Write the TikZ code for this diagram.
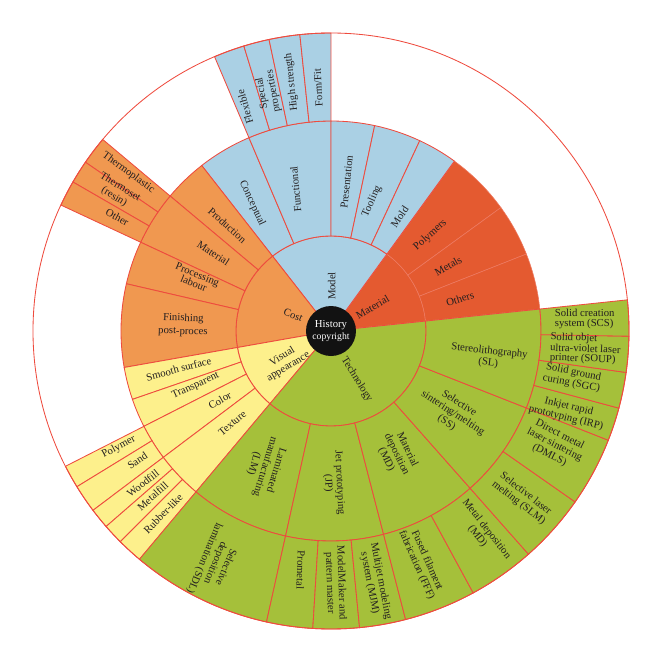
\documentclass[tikz,border=0pt]{standalone}
\usepackage{fontspec}
\setmainfont{Liberation Serif}
\definecolor{modelblue}{HTML}{AAD0E4}
\definecolor{matred}{HTML}{E45A30}
\definecolor{costorange}{HTML}{F09850}
\definecolor{visyellow}{HTML}{FDF08C}
\definecolor{techgreen}{HTML}{A5C03A}
\definecolor{segline}{HTML}{EE4B3E}
\definecolor{matline}{HTML}{EE7A62}
\definecolor{labeltext}{HTML}{231F20}

\begin{document}
\begin{tikzpicture}[x=0.025cm, y=0.025cm, line width=0.6pt,
  lbl/.style={text=labeltext, font=\fontsize{7.6}{8.2}\selectfont, align=center, inner sep=0pt},
  tightlbl/.style={lbl, font=\fontsize{7.6}{6.8}\selectfont}]
\useasboundingbox (-331,-329) rectangle (328,331);
\foreach \ri/\ro/\a/\b in {20/95/6/54, 95/210/36/54, 95/210/21.5/36, 95/210/6/21.5}
  \filldraw[fill=matred, draw=matline, line width=0.4pt] (\a:\ri) arc[start angle=\a, end angle=\b, radius=\ri]
    -- (\b:\ro) arc[start angle=\b, end angle=\a, radius=\ro] -- cycle;
\foreach \ri/\ro/\a/\b/\c in {
  20/95/54/128/modelblue, 20/95/128/190/costorange, 20/95/190/230/visyellow, 20/95/230/366/techgreen,
  95/210/113/128/modelblue, 95/210/90/113/modelblue, 95/210/78/90/modelblue, 95/210/65/78/modelblue, 95/210/54/65/modelblue,
  95/210/128/140/costorange, 95/210/140/155/costorange, 95/210/155/167/costorange, 95/210/167/190/costorange,
  95/210/190/199/visyellow, 95/210/199/207/visyellow, 95/210/207/217/visyellow, 95/210/217/230/visyellow,
  95/210/230/257.5/techgreen, 95/210/257.5/284.5/techgreen, 95/210/284.5/311.5/techgreen, 95/210/311.5/338.5/techgreen, 95/210/338.5/366/techgreen,
  210/298/107/113/modelblue, 210/298/102/107/modelblue, 210/298/96/102/modelblue, 210/298/90/96/modelblue,
  210/298/140/145.5/costorange, 210/298/145.5/150/costorange, 210/298/150/155/costorange,
  210/298/207/211.5/visyellow, 210/298/211.5/217/visyellow, 210/298/217/221/visyellow, 210/298/221/225/visyellow, 210/298/225/230/visyellow,
  210/298/230/257.5/techgreen, 210/298/257.5/266.5/techgreen, 210/298/266.5/275.5/techgreen, 210/298/275.5/284.5/techgreen,
  210/298/284.5/298.5/techgreen, 210/298/298.5/311.5/techgreen, 210/298/311.5/325/techgreen, 210/298/325/338.5/techgreen,
  210/298/338.5/345/techgreen, 210/298/345/352/techgreen, 210/298/352/359/techgreen, 210/298/359/366/techgreen}
  \filldraw[fill=\c, draw=segline] (\a:\ri) arc[start angle=\a, end angle=\b, radius=\ri]
    -- (\b:\ro) arc[start angle=\b, end angle=\a, radius=\ro] -- cycle;
\draw[segline] (0,0) circle (298);
\fill[black!93] (0,0) circle (25);
\node[lbl, text=white] (hist) at (0,0) {{\fontsize{7.6}{8}\selectfont History}\\{\fontsize{6.9}{7.6}\selectfont copyright}};

\node[lbl, rotate=90] (model) at (89:45) {Model};
\node[lbl, rotate=30] (material) at (30:48) {Material};
\node[lbl, rotate=-22] (cost) at (157:41) {Cost};
\node[lbl, rotate=31] (visual) at (214:55) {Visual\\appearance};
\node[lbl, rotate=-58] (technology) at (298:55) {Technology};

\node[lbl, rotate=-65] (conceptual) at (121.7:150) {Conceptual};
\node[lbl, rotate=95] (functional) at (104:146) {Functional};
\node[lbl, rotate=84] (presentation) at (84:150) {Presentation};
\node[lbl, rotate=66] (tooling) at (72.5:136) {Tooling};
\node[lbl, rotate=56] (mold) at (59:133) {Mold};
\node[lbl, rotate=42] (polymers) at (44:138) {Polymers};
\node[lbl, rotate=30] (metals) at (29:134) {Metals};
\node[lbl, rotate=18] (others) at (14:133) {Others};
\node[lbl, rotate=-42] (production) at (134.5:148) {Production};
\node[lbl, rotate=-33] (costmaterial) at (146.5:141) {Material};
\node[lbl, rotate=-22, font=\fontsize{7.6}{7.2}\selectfont] (processing) at (159:145) {Processing\\labour};
\node[lbl, rotate=-2, font=\fontsize{7.6}{9.4}\selectfont] (finishing) at (177.7:148) {Finishing\\post-proces};
\node[lbl, rotate=15] (smooth) at (194:157) {Smooth surface};
\node[lbl, rotate=25] (transparent) at (202:146) {Transparent};
\node[lbl, rotate=30] (color) at (212:131) {Color};
\node[lbl, rotate=40] (texture) at (223:135) {Texture};
\node[lbl, rotate=-107] (lm) at (244:151) {Laminated\\manufacturing\\(LM)};
\node[lbl, rotate=-87] (jp) at (271:152) {Jet prototyping\\(JP)};
\node[lbl, rotate=-64] (md) at (298:140) {Material\\deposition\\(MD)};
\node[lbl, rotate=-33] (ss) at (326:147) {Selective\\sintering/melting\\(SS)};
\node[lbl, rotate=-6] (sl) at (350.6:160) {Stereolithography\\(SL)};

\node[lbl, rotate=106] (flexible) at (111:240) {Flexible};
\node[lbl, rotate=100] (special) at (104.8:247) {Special\\properties};
\node[lbl, rotate=96] (highstrength) at (99:252) {High strength};
\node[lbl, rotate=93] (formfit) at (93:244) {Form/Fit};
\node[lbl, rotate=-36] (thermoplastic) at (142:257) {Thermoplastic};
\node[lbl, rotate=-32] (thermoset) at (147:255) {Thermoset\\(resin)};
\node[lbl, rotate=-28] (other) at (152:242) {Other};
\node[lbl, rotate=28] (polymer) at (208.7:242) {Polymer};
\node[lbl, rotate=34] (sand) at (213.8:233) {Sand};
\node[lbl, rotate=38] (woodfill) at (219:242) {Woodfill};
\node[lbl, rotate=42] (metalfill) at (222.8:243) {Metalfill};
\node[lbl, rotate=46] (rubber) at (227.4:248) {Rubber-like};
\node[lbl, rotate=-113] (sdl) at (243.4:259) {Selective\\deposition\\lamination (SDL)};
\node[lbl, rotate=-92] (prometal) at (262.8:241) {Prometal};
\node[lbl, rotate=-88] (modelmaker) at (271:252) {ModelMaker and\\pattern master};
\node[lbl, rotate=-79] (mjm) at (280:255) {Multijet modeling\\system (MJM)};
\node[lbl, rotate=-66] (fff) at (291.4:249) {Fused filament\\fabrication (FFF)};
\node[lbl, rotate=-52] (metaldep) at (306.8:252) {Metal deposition\\(MD)};
\node[lbl, rotate=-38] (slm) at (318.8:254) {Selective laser\\melting (SLM)};
\node[lbl, rotate=-27] (dmls) at (333:251) {Direct metal\\laser sintering\\(DMLS)};
\node[lbl, rotate=-14] (irp) at (341:250) {Inkjet rapid\\prototyping (IRP)};
\node[lbl, rotate=-11] (sgc) at (349:246) {Solid ground\\curing (SGC)};
\node[tightlbl, rotate=-2, align=left] (soup) at (356:255) {Solid objet\\ultra-violet laser\\printer (SOUP)};
\node[tightlbl, align=left] (scs) at (2.7:254) {Solid creation\\system (SCS)};
\end{tikzpicture}
\end{document}
